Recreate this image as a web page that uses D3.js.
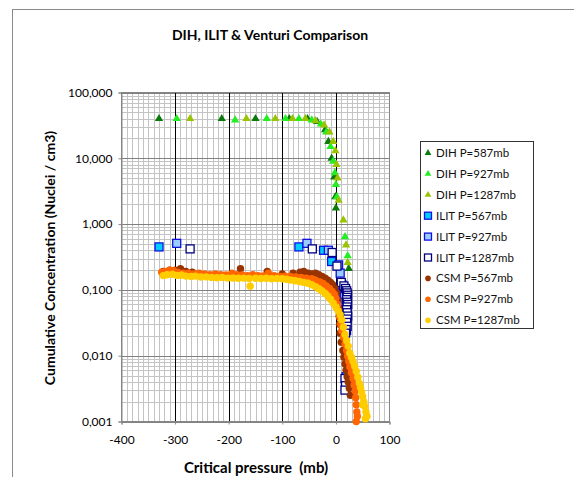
<!DOCTYPE html>
<html>
<head>
<meta charset="utf-8">
<script src="https://cdn.jsdelivr.net/npm/d3@7"></script>
<style>
  body { margin: 0; background: #fff; }
  text { font-family: Lato, "Liberation Sans", sans-serif; }
</style>
</head>
<body>
<svg id="chart" width="574" height="477"></svg>
<script>
// values (x: critical pressure mb, y: concentration)
var dih587X = [-330, -213, -150, -87, -53, -35, -20, -14, -8, -3, -1, 0, 24];
var dih587Y = [40, 40, 40, 40, 40, 36, 27, 18, 10, 5.2, 2.6, 1.75, 0.21];
var dih927X = [-297, -188, -129, -94, -69, -45, -28, -18, -10, -5, -2, 0, 2, 17, 22];
var dih927Y = [40, 38, 40, 40, 40, 38, 33, 25, 15, 9, 6, 4, 2.6, 0.64, 0.33];
var dih1287X = [-272, -167, -113, -81, -57, -38, -22, -12, -5, -1, 1, 3, 5, 14, 19, 22];
var dih1287Y = [40, 40, 40, 40, 40, 37, 32, 25, 18, 13, 8, 5, 2.3, 1.15, 0.48, 0.26];

var ilit567X = [-330, -69, -23, -8, 11, 13, 15, 16, 17, 18, 19, 18];
var ilit567Y = [0.45, 0.45, 0.40, 0.27, 0.12, 0.09, 0.07, 0.05, 0.035, 0.025, 0.0048, 0.004];
var ilit927X = [-297, -54, -14, 5, 8, 14, 16, 17, 18, 19, 20, 19];
var ilit927Y = [0.51, 0.51, 0.40, 0.24, 0.18, 0.11, 0.085, 0.065, 0.045, 0.032, 0.024, 0.0042];
var ilit1287X = [-272, -44, -7, 2, 10, 15, 18, 20, 21, 22, 21, 20, 21, 22, 21, 20, 21, 22, 21, 20, 21, 19, 18, 17, 18, 17];
var ilit1287Y = [0.42, 0.42, 0.37, 0.23, 0.13, 0.115, 0.105, 0.097, 0.09, 0.083, 0.077, 0.071, 0.065, 0.06, 0.055, 0.05, 0.045, 0.04, 0.036, 0.032, 0.028, 0.025, 0.022, 0.0045, 0.0035, 0.003];

var csm567X = [-322, -310, -300, -290, -280, -268, -178, -128, -100, -80, -67, -60, -52, -45, -38, -32, -26, -20, -15, -10,
  -6, -2, 1, 3, 5, 6, 7, 8, 10, 13, 15, 17, 19, 21, 23, 25, 27];
var csm567Y = [0.19, 0.2, 0.2, 0.21, 0.19, 0.185, 0.21, 0.19, 0.175, 0.18, 0.185, 0.19, 0.18, 0.175, 0.18, 0.17, 0.16, 0.15, 0.14, 0.13,
  0.12, 0.105, 0.09, 0.07, 0.052, 0.04, 0.03, 0.022, 0.016, 0.012, 0.0095, 0.0075, 0.006, 0.0048, 0.004, 0.0032, 0.0025];
var csm927X = [-325, -318, -310, -303, -295, -285, -275, -265, -255, -245, -235, -225, -215, -205, -194, -185, -175, -165, -155, -145,
  -135, -126, -115, -105, -95, -85, -75, -65, -55, -45, -38, -30, -24, -18, -12, -7, -3, 0, 3, 5,
  7, 9, 11, 14, 17, 20, 22, 24, 26, 29, 32, 34, 36, 37, 38, 39, 40, 38];
var csm927Y = [0.185, 0.19, 0.2, 0.195, 0.185, 0.18, 0.18, 0.175, 0.18, 0.175, 0.17, 0.175, 0.17, 0.168, 0.18, 0.17, 0.168, 0.165, 0.17, 0.165,
  0.163, 0.18, 0.165, 0.16, 0.162, 0.16, 0.158, 0.155, 0.15, 0.148, 0.14, 0.132, 0.125, 0.115, 0.105, 0.095, 0.085, 0.075, 0.06, 0.048,
  0.038, 0.03, 0.024, 0.019, 0.015, 0.012, 0.0098, 0.0082, 0.0068, 0.0055, 0.0045, 0.0036, 0.0029, 0.0023, 0.0018, 0.0014, 0.0012, 0.001];
var csm1287X = [-322, -315, -305, -296, -288, -280, -270, -262, -252, -242, -232, -222, -212, -202, -192, -182, -172, -162, -160, -150,
  -140, -130, -120, -110, -100, -92, -84, -76, -68, -60, -52, -45, -38, -32, -26, -20, -15, -10, -5, 0,
  4, 8, 11, 14, 17, 20, 23, 26, 29, 32, 35, 38, 41, 44, 46, 48, 50, 52, 54, 56, 58, 55, 50];
var csm1287Y = [0.165, 0.17, 0.173, 0.166, 0.168, 0.162, 0.16, 0.162, 0.157, 0.158, 0.155, 0.153, 0.155, 0.151, 0.152, 0.15, 0.151, 0.149, 0.114, 0.15,
  0.149, 0.15, 0.148, 0.149, 0.148, 0.145, 0.141, 0.138, 0.134, 0.13, 0.126, 0.12, 0.112, 0.104, 0.096, 0.088, 0.08, 0.072, 0.063, 0.055,
  0.048, 0.042, 0.035, 0.027, 0.021, 0.017, 0.014, 0.011, 0.0095, 0.0082, 0.007, 0.0058, 0.0047, 0.0038, 0.0033, 0.0028, 0.0024, 0.002, 0.0017, 0.0014,
  0.0012, 0.0011, 0.0018];

var xTicks = [-400, -300, -200, -100, 0, 100];
var yTicks = [0.001, 0.01, 0.1, 1, 10, 100];

var series = [
  {name: "DIH P=587mb",   xs: dih587X,   ys: dih587Y,   shape: "tri", fill: "#0a7a0a", stroke: "none"},
  {name: "DIH P=927mb",   xs: dih927X,   ys: dih927Y,   shape: "tri", fill: "#22ee22", stroke: "none"},
  {name: "DIH P=1287mb",  xs: dih1287X,  ys: dih1287Y,  shape: "tri", fill: "#99c400", stroke: "none"},
  {name: "ILIT P=567mb",  xs: ilit567X,  ys: ilit567Y,  shape: "sq",  fill: "#00ccff", stroke: "#1010e0"},
  {name: "ILIT P=927mb",  xs: ilit927X,  ys: ilit927Y,  shape: "sq",  fill: "#99ccff", stroke: "#1010e0"},
  {name: "ILIT P=1287mb", xs: ilit1287X, ys: ilit1287Y, shape: "sq",  fill: "#ffffff", stroke: "#000080"},
  {name: "CSM P=567mb",   xs: csm567X,   ys: csm567Y,   shape: "dot", fill: "#993300", stroke: "none"},
  {name: "CSM P=927mb",   xs: csm927X,   ys: csm927Y,   shape: "dot", fill: "#ff6600", stroke: "none"},
  {name: "CSM P=1287mb",  xs: csm1287X,  ys: csm1287Y,  shape: "dot", fill: "#ffcc00", stroke: "none"}
];

var svg = d3.select("#chart");

// outer chart area border
svg.append("rect")
  .attr("x", 12.5).attr("y", 9.5)
  .attr("width", 620).attr("height", 520)
  .attr("fill", "#fff").attr("stroke", "#8a8a8a");

var x = d3.scaleLinear().domain([-400, 100]).range([121.5, 389.5]);
var y = d3.scaleLog().domain([0.001, 100]).range([421.5, 92.5]);

var comma = d3.formatLocale({decimal: ",", thousands: ".", grouping: [3], currency: ["", ""]});

var grid = svg.append("g");
// minor vertical lines every 10 mb
d3.range(-390, 100, 10).filter(function(v) { return v % 100 !== 0; }).forEach(function(v) {
  grid.append("line").attr("x1", Math.round(x(v)) + 0.5).attr("x2", Math.round(x(v)) + 0.5)
    .attr("y1", y(100)).attr("y2", y(0.001)).attr("stroke", "#c4c4c4");
});
// minor horizontal log lines
yTicks.slice(0, -1).forEach(function(d) {
  for (var k = 2; k < 10; k++) {
    var yy = Math.round(y(d * k)) + 0.5;
    grid.append("line").attr("x1", x(-400)).attr("x2", x(100))
      .attr("y1", yy).attr("y2", yy).attr("stroke", "#c4c4c4");
  }
});
yTicks.forEach(function(d) {
  var yy = Math.round(y(d)) + 0.5;
  grid.append("line").attr("x1", x(-400)).attr("x2", x(100))
    .attr("y1", yy).attr("y2", yy).attr("stroke", "#808080");
});
xTicks.slice(1, -1).forEach(function(v) {
  grid.append("line").attr("x1", Math.round(x(v)) + 0.5).attr("x2", Math.round(x(v)) + 0.5)
    .attr("y1", y(100)).attr("y2", y(0.001)).attr("stroke", "#000");
});
// plot frame
svg.append("rect")
  .attr("x", x(-400)).attr("y", y(100))
  .attr("width", x(100) - x(-400)).attr("height", y(0.001) - y(100))
  .attr("fill", "none").attr("stroke", "#868686");

var xAxis = d3.axisBottom(x).tickValues(xTicks).tickSize(3).tickPadding(11)
  .tickFormat(function(d) { return String(d); });
var yAxis = d3.axisLeft(y).tickValues(yTicks).tickSize(3).tickPadding(6)
  .tickFormat(comma.format(".3f"));

var gx = svg.append("g").attr("transform", "translate(0," + y(0.001) + ")").call(xAxis);
var gy = svg.append("g").attr("transform", "translate(" + x(-400) + ",0)").call(yAxis);
[gx, gy].forEach(function(g) {
  g.select(".domain").attr("stroke", "#868686");
  g.selectAll(".tick line").attr("stroke", "#868686");
  g.selectAll(".tick text").attr("fill", "#000").style("font-size", "12px")
    .style("font-family", "Lato, 'Liberation Sans', sans-serif");
});

var triangle = d3.symbol().type(d3.symbolTriangle).size(30);
var triangleSmall = d3.symbol().type(d3.symbolTriangle).size(20);

function drawMarker(g, s, px, py, small) {
  if (s.shape === "tri") {
    g.append("path").attr("d", small ? triangleSmall() : triangle())
      .attr("transform", "translate(" + px + "," + py + ")")
      .attr("fill", s.fill);
  } else if (s.shape === "sq") {
    var h = small ? 3.5 : 4;
    g.append("rect").attr("x", px - h).attr("y", py - h)
      .attr("width", 2 * h).attr("height", 2 * h)
      .attr("fill", s.fill).attr("stroke", s.stroke).attr("stroke-width", 1.3);
  } else {
    g.append("circle").attr("cx", px).attr("cy", py).attr("r", small ? 2.8 : 3.7)
      .attr("fill", s.fill);
  }
}

var marks = svg.append("g");
series.forEach(function(s) {
  var g = marks.append("g");
  s.xs.forEach(function(v, i) {
    drawMarker(g, s, x(v), y(s.ys[i]), false);
  });
});

// titles
svg.append("text").attr("x", 270).attr("y", 40).attr("text-anchor", "middle")
  .style("font-size", "14px").style("font-weight", "bold")
  .text("DIH, ILIT & Venturi Comparison");
svg.append("text").attr("x", 256).attr("y", 473).attr("text-anchor", "middle")
  .style("font-size", "15px").style("font-weight", "bold").style("white-space", "pre")
  .text("Critical pressure  (mb)");
svg.append("text").attr("transform", "translate(55,258) rotate(-90)").attr("text-anchor", "middle")
  .style("font-size", "14px").style("font-weight", "bold")
  .text("Cumulative Concentration (Nuclei / cm3)");

// legend
var legend = svg.append("g");
legend.append("rect").attr("x", 420.5).attr("y", 141.5).attr("width", 113).attr("height", 187)
  .attr("fill", "#fff").attr("stroke", "#333");
series.forEach(function(s, i) {
  var ly = 153 + i * 20.9;
  drawMarker(legend, s, 428, ly, true);
  legend.append("text").attr("x", 436).attr("y", ly + 4)
    .style("font-size", "11.5px").attr("fill", "#111").text(s.name);
});
</script>
</body>
</html>
